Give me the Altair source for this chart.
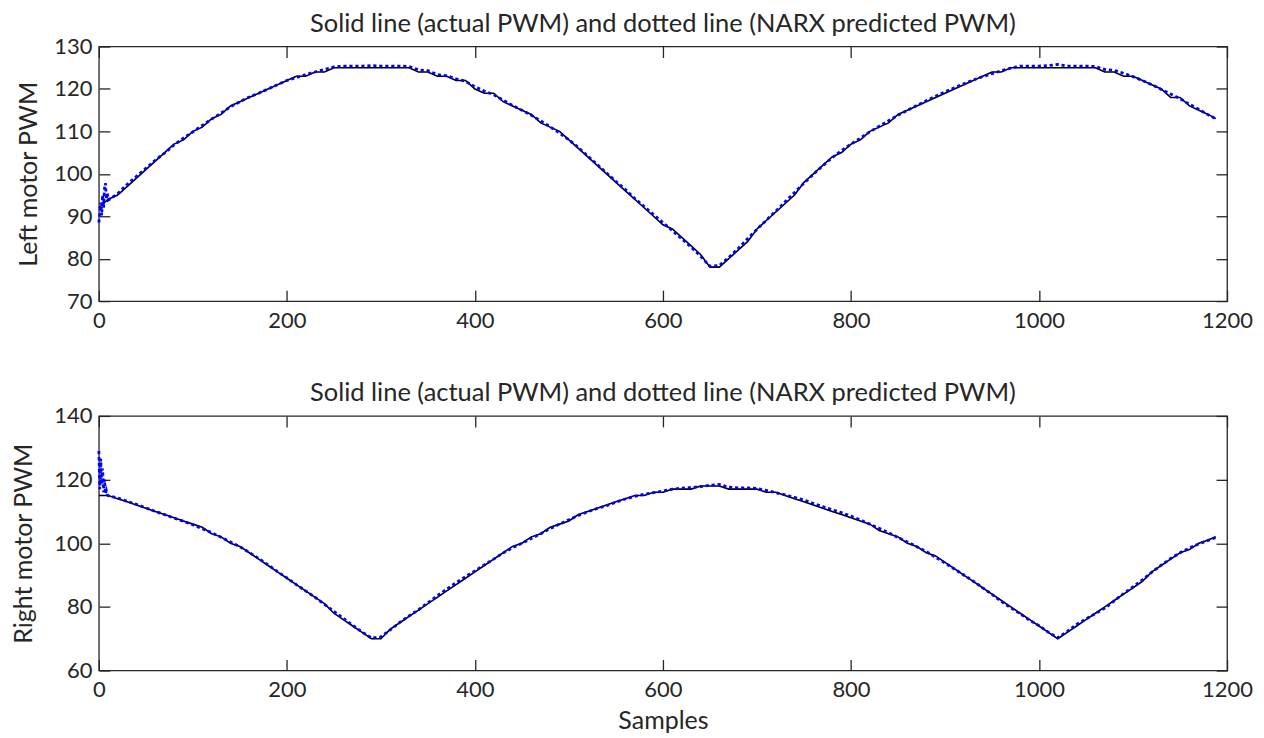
import altair as alt
import pandas as pd

# ---------------- data ----------------
samples = list(range(0, 1190, 10)) + [1188]
pred_samples = list(range(0, 10)) + list(range(10, 1190, 10)) + [1188]

x_ticks = [0, 200, 400, 600, 800, 1000, 1200]
left_ticks = [70, 80, 90, 100, 110, 120, 130]
right_ticks = [60, 80, 100, 120, 140]

left_actual = [
    92, 94, 95, 97, 99, 101, 103, 105, 107, 108,
    110, 111, 113, 114, 116, 117, 118, 119, 120, 121,
    122, 123, 123, 124, 124, 125, 125, 125, 125, 125,
    125, 125, 125, 125, 124, 124, 123, 123, 122, 122,
    120, 119, 119, 117, 116, 115, 114, 112, 111, 110,
    108, 106, 104, 102, 100, 98, 96, 94, 92, 90,
    88, 87, 85, 83, 81, 78, 78, 80, 82, 84,
    87, 89, 91, 93, 95, 98, 100, 102, 104, 105,
    107, 108, 110, 111, 112, 114, 115, 116, 117, 118,
    119, 120, 121, 122, 123, 124, 124, 125, 125, 125,
    125, 125, 125, 125, 125, 125, 125, 124, 124, 123,
    123, 122, 121, 120, 118, 118, 116, 115, 114,
    113,
]
left_pred_start = [88.5, 91.0, 93.2, 90.2, 95.0, 92.0, 96.5, 97.8, 94.0, 95.5]
left_pred = [
    93.8, 95.3, 97.5, 99.4, 101.3, 103.2, 104.9, 106.8, 108.4,
    109.9, 111.4, 112.9, 114.3, 115.8, 117.0, 118.1, 119.0, 120.0, 121.0,
    122.0, 122.7, 123.4, 124.0, 124.6, 125.2, 125.4, 125.4, 125.4, 125.5,
    125.4, 125.4, 125.4, 125.3, 124.5, 124.3, 123.4, 123.1, 122.4, 121.8,
    120.5, 119.5, 118.6, 117.4, 116.1, 115.0, 113.8, 112.5, 111.1, 109.6,
    108.0, 106.2, 104.2, 102.2, 100.2, 98.2, 96.3, 94.2, 92.3, 90.4,
    88.5, 86.6, 84.7, 82.7, 80.6, 78.2, 78.4, 80.3, 82.4, 84.7,
    86.9, 89.1, 91.2, 93.4, 95.6, 97.8, 99.9, 101.9, 103.8, 105.5,
    107.0, 108.4, 109.9, 111.2, 112.5, 113.8, 115.0, 116.1, 117.2, 118.3,
    119.3, 120.3, 121.2, 122.1, 122.9, 123.6, 124.3, 124.9, 125.4, 125.4,
    125.4, 125.5, 125.8, 125.4, 125.4, 125.4, 125.3, 124.6, 124.4, 123.7,
    122.9, 122.0, 121.0, 119.9, 118.8, 117.7, 116.4, 115.2, 113.9,
    113.0,
]

right_actual = [
    115, 115, 114, 113, 112, 111, 110, 109, 108, 107,
    106, 105, 103, 102, 100, 99, 97, 95, 93, 91,
    89, 87, 85, 83, 81, 78, 76, 74, 72, 70,
    70, 73, 75, 77, 79, 81, 83, 85, 87, 89,
    91, 93, 95, 97, 99, 100, 102, 103, 105, 106,
    107, 109, 110, 111, 112, 113, 114, 115, 115, 116,
    116, 117, 117, 117, 118, 118, 118, 117, 117, 117,
    117, 116, 116, 115, 114, 113, 112, 111, 110, 109,
    108, 107, 106, 104, 103, 102, 100, 99, 97, 96,
    94, 92, 90, 88, 86, 84, 82, 80, 78, 76,
    74, 72, 70, 72, 74, 76, 78, 80, 82, 84,
    86, 88, 91, 93, 95, 97, 98, 100, 101,
    102,
]
right_pred_start = [129.0, 117.0, 126.5, 118.5, 123.5, 116.0, 120.0, 115.5, 116.5, 115.2]
right_pred = [
    114.9, 114.2, 113.2, 112.2, 111.1, 110.0, 109.0, 107.9, 106.9,
    105.8, 104.6, 103.3, 101.9, 100.4, 98.9, 97.1, 95.2, 93.2, 91.1,
    89.1, 87.0, 85.0, 83.0, 80.8, 78.6, 76.4, 74.2, 72.1, 70.2,
    70.6, 72.8, 75.1, 77.2, 79.1, 81.3, 83.5, 85.6, 87.6, 89.5,
    91.3, 93.2, 95.0, 96.9, 98.6, 100.0, 101.5, 103.0, 104.6, 106.0,
    107.4, 108.7, 109.9, 110.9, 111.8, 112.9, 113.9, 114.7, 115.4, 115.9,
    116.4, 117.0, 117.3, 117.5, 117.8, 118.2, 118.5, 117.6, 117.4, 117.4,
    117.2, 116.6, 115.9, 115.2, 114.4, 113.6, 112.5, 111.5, 110.5, 109.6,
    108.5, 107.3, 106.0, 104.7, 103.3, 101.8, 100.4, 98.9, 97.4, 95.6,
    93.8, 91.9, 90.0, 88.1, 86.0, 83.9, 81.7, 79.7, 77.8, 75.8,
    74.1, 72.0, 70.3, 72.3, 74.5, 76.2, 77.9, 79.6, 81.9, 84.2,
    86.3, 88.5, 90.9, 93.1, 95.2, 97.0, 98.5, 99.8, 100.9,
    101.8,
]

TITLE = "Solid line (actual PWM) and dotted line (NARX predicted PWM)"
FONT = "Lato"
INK = "#262626"
TICK = 11


def panel(actual, pred_start, pred, ydomain, yticks, ytitle, ytitle_pad, xtitle):
    df_a = pd.DataFrame({"Samples": samples, "PWM": actual})
    df_p = pd.DataFrame({"Samples": pred_samples, "PWM": pred_start + pred})
    xs = alt.Scale(domain=[0, 1200], nice=False, zero=False)
    ys = alt.Scale(domain=ydomain, nice=False, zero=False)

    bottom_kw = dict(orient="bottom", values=x_ticks, tickSize=TICK, offset=-TICK,
                     domain=False, grid=False, labelPadding=9, format="d",
                     labelFlush=False)
    if xtitle:
        bottom_kw.update(title=xtitle, titlePadding=8)
    else:
        bottom_kw.update(title=None)
    ax_bottom = alt.Axis(**bottom_kw)
    ax_left = alt.Axis(orient="left", values=yticks, tickSize=TICK, offset=-TICK,
                       domain=False, grid=False, labelPadding=7, format="d",
                       labelFlush=False, title=ytitle, titlePadding=ytitle_pad)
    ax_top = alt.Axis(orient="top", values=x_ticks, tickSize=TICK, offset=-TICK,
                      domain=False, grid=False, labels=False, title=None)
    ax_right = alt.Axis(orient="right", values=yticks, tickSize=TICK, offset=-TICK,
                        domain=False, grid=False, labels=False, title=None)

    actual_line = alt.Chart(df_a).mark_line(
        color="black", strokeWidth=1.6
    ).encode(
        x=alt.X("Samples:Q", scale=xs, axis=ax_bottom),
        y=alt.Y("PWM:Q", scale=ys, axis=ax_left),
    )
    pred_line = alt.Chart(df_p).mark_line(
        color="#0000FF", strokeWidth=2.8, strokeDash=[3.2, 2.8]
    ).encode(
        x=alt.X("Samples:Q", scale=xs, axis=ax_top),
        y=alt.Y("PWM:Q", scale=ys, axis=ax_right),
    )
    return alt.layer(actual_line, pred_line).resolve_axis(
        x="independent", y="independent"
    ).properties(width=1130, height=255, title=TITLE)


top = panel(left_actual, left_pred_start, left_pred, [70, 130], left_ticks,
            "Left motor PWM", 12, "")
bottom = panel(right_actual, right_pred_start, right_pred, [60, 140], right_ticks,
               "Right motor PWM", 17, "Samples")

chart = alt.vconcat(top, bottom, spacing=48).properties(
    padding={"left": 3, "top": 2, "right": 2, "bottom": 0}
).configure_view(
    stroke=INK, strokeWidth=1.3
).configure_axis(
    labelFont=FONT, labelFontSize=22, labelColor=INK,
    titleFont=FONT, titleFontSize=25, titleColor=INK, titleFontWeight="normal",
    tickColor=INK, tickWidth=1.3,
).configure_title(
    font=FONT, fontSize=25.5, color=INK, fontWeight="normal", offset=-2, anchor="middle"
)

chart.save("out.html", embed_options={"renderer": "svg", "actions": False})
